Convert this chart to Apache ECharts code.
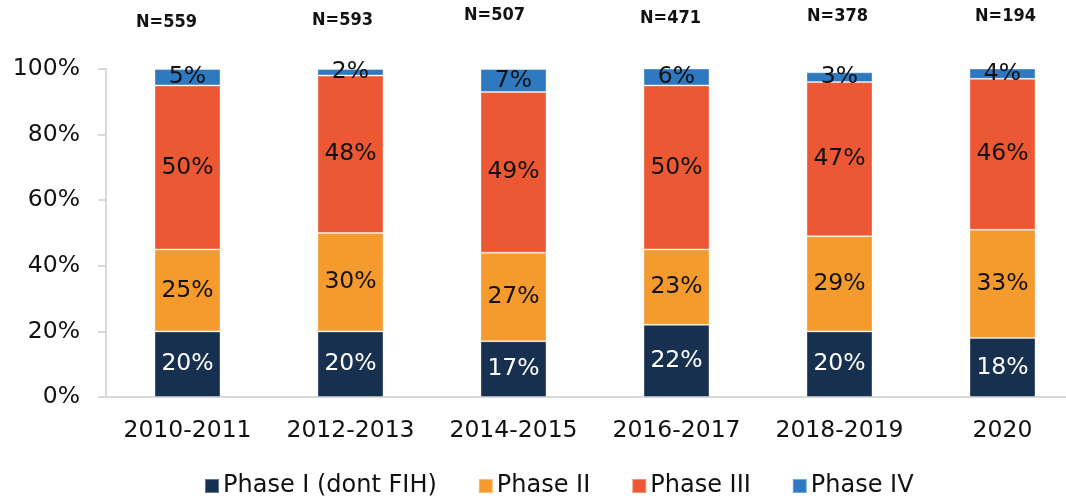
<!DOCTYPE html>
<html>
<head>
<meta charset="utf-8">
<script src="https://cdn.jsdelivr.net/npm/echarts@6/dist/echarts.min.js"></script>
<style>
  html, body { margin: 0; padding: 0; background: #fff; overflow: hidden; }
  /* the source plot area runs past the right edge of the picture */
  #chart { width: 1090px; height: 496px; }
</style>
</head>
<body>
<div id="chart"></div>
<script>
// periods and sample sizes
var periods = ['2010-2011', '2012-2013', '2014-2015', '2016-2017', '2018-2019', '2020'];
var nLabels = ['N=559', 'N=593', 'N=507', 'N=471', 'N=378', 'N=194'];

// share of trials per phase (%)
var phase1 = [20, 20, 17, 22, 20, 18];
var phase2 = [25, 30, 27, 23, 29, 33];
var phase3 = [50, 48, 49, 50, 47, 46];
var phase4 = [5, 2, 7, 6, 3, 4];

var yTicks = [0, 20, 40, 60, 80, 100];

var font = 'DejaVu Sans';
var myChart = echarts.init(document.getElementById('chart'));

function makeSeries(name, data, color, labelColor) {
    return {
        name: name,
        type: 'bar',
        stack: 'total',
        barWidth: 66,
        data: data,
        itemStyle: { color: color, borderColor: 'rgba(255,255,255,0.35)', borderWidth: 1 },
        label: {
            show: true,
            position: 'inside',
            formatter: '{c}%',
            color: labelColor,
            fontFamily: font,
            fontSize: 23.5
        }
    };
}

var option = {
    animation: false,
    grid: { left: 106, top: 69, width: 978, height: 328, containLabel: false },
    legend: {
        top: 469,
        left: 199,
        icon: 'rect',
        itemWidth: 14,
        itemHeight: 14,
        itemGap: 41,
        textStyle: { fontFamily: font, fontSize: 24, color: '#111', padding: [0, 0, 0, -1] },
        data: ['Phase I (dont FIH)', 'Phase II', 'Phase III', 'Phase IV']
    },
    xAxis: {
        type: 'category',
        data: periods,
        axisLine: { lineStyle: { color: '#d9d9d9', width: 2 } },
        axisTick: { show: false },
        axisLabel: {
            fontFamily: font, fontSize: 23.5, color: '#111', margin: 22,
            interval: 0, hideOverlap: false
        }
    },
    yAxis: {
        type: 'value',
        min: 0,
        max: 100,
        interval: 20,
        axisLine: { show: true, lineStyle: { color: '#d9d9d9', width: 2 } },
        axisTick: { show: true, length: 8, lineStyle: { color: '#d9d9d9', width: 2 } },
        splitLine: { show: false },
        axisLabel: {
            fontFamily: font, fontSize: 23.5, color: '#111', margin: 26,
            formatter: function (v) { return yTicks.indexOf(v) >= 0 ? v + '%' : ''; }
        }
    },
    series: [
        makeSeries('Phase I (dont FIH)', phase1, '#17304f', '#ffffff'),
        makeSeries('Phase II', phase2, '#f59a2c', '#111'),
        makeSeries('Phase III', phase3, '#ec5833', '#111'),
        makeSeries('Phase IV', phase4, '#2f79c1', '#111')
    ]
};

myChart.setOption(option);

// N= annotations above each bar (slightly shifted as in the source)
var nShiftX = [-21, -8, -19, -6, -2, 3];
var nY = [22, 20, 15, 18, 16, 16];
var texts = nLabels.map(function (t, i) {
    var p = myChart.convertToPixel({ xAxisIndex: 0 }, periods[i]);
    return {
        type: 'text',
        x: p + nShiftX[i],
        y: nY[i],
        style: {
            text: t,
            fontFamily: 'DejaVu Sans Condensed, DejaVu Sans',
            fontWeight: 'bold',
            fontSize: 18,
            fill: '#111',
            align: 'center',
            verticalAlign: 'middle'
        }
    };
});
myChart.setOption({ graphic: texts });
</script>
</body>
</html>
